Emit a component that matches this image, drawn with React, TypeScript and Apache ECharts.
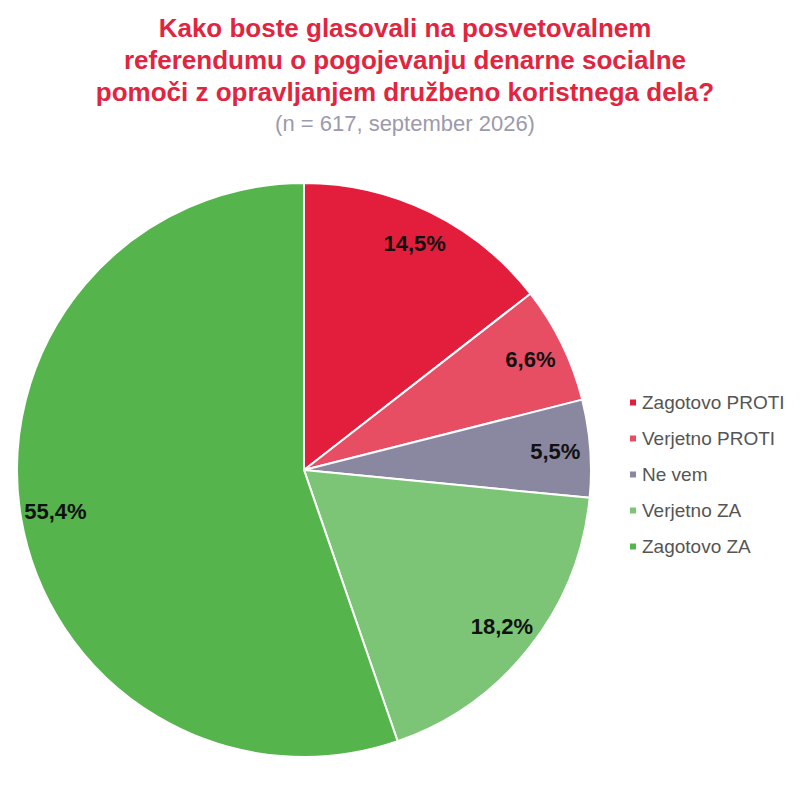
import * as echarts from 'echarts';
import { useEffect, useRef } from 'react';

const categories = ['Zagotovo PROTI', 'Verjetno PROTI', 'Ne vem', 'Verjetno ZA', 'Zagotovo ZA'];
const shares = [14.5, 6.6, 5.5, 18.2, 55.4];
const colors = ['#e31e3c', '#e84e63', '#8a87a0', '#7cc576', '#55b54c'];

const titleLines = [
  'Kako boste glasovali na posvetovalnem',
  'referendumu o pogojevanju denarne socialne',
  'pomoči z opravljanjem družbeno koristnega dela?',
];
const subtitle = '(n = 617, september 2026)';

const font = '"Liberation Sans", Arial, sans-serif';

export default function App() {
  const container = useRef<HTMLDivElement>(null);

  useEffect(() => {
    document.body.style.margin = '0';
    const element = container.current;
    if (!element) return undefined;
    const chart = echarts.init(element, undefined, { renderer: 'svg' });
    const data = categories.map((name, i) => ({
      name,
      value: shares[i],
      itemStyle: { color: colors[i] },
    }));

    chart.setOption({
      animation: false,
      backgroundColor: '#ffffff',
      title: {
        text: titleLines.join('\n'),
        subtext: subtitle,
        left: 400,
        top: 7,
        textAlign: 'center',
        itemGap: 4,
        textStyle: {
          color: '#e2253f',
          fontFamily: font,
          fontSize: 26,
          fontWeight: 'bold',
          lineHeight: 32,
        },
        subtextStyle: {
          color: '#9c9aab',
          fontFamily: font,
          fontSize: 22,
        },
      },
      legend: {
        orient: 'vertical',
        left: 623,
        top: 388,
        itemWidth: 8,
        itemHeight: 8,
        itemGap: 17,
        icon: 'rect',
        data: categories,
        textStyle: { color: '#555555', fontFamily: font, fontSize: 19 },
      },
      series: [
        {
          type: 'pie',
          center: [304, 470],
          radius: [0, 287],
          startAngle: 90,
          clockwise: true,
          itemStyle: { borderColor: '#ffffff', borderWidth: 2 },
          label: { show: false },
          labelLine: { show: false },
          emphasis: { disabled: true },
          data,
        },
        {
          // transparent ring that only carries the labels near the outer edge
          type: 'pie',
          silent: true,
          center: [304, 470],
          radius: [211, 287],
          startAngle: 90,
          clockwise: true,
          itemStyle: { color: 'transparent', borderWidth: 0 },
          label: {
            show: true,
            position: 'inside',
            formatter: (p: { value: number }) => `${p.value.toFixed(1).replace('.', ',')}%`,
            color: '#111111',
            fontFamily: font,
            fontSize: 22,
            fontWeight: 'bold',
          },
          labelLine: { show: false },
          emphasis: { disabled: true },
          tooltip: { show: false },
          legendHoverLink: false,
          data: categories.map((name, i) => ({ name: name + ' ', value: shares[i] })),
        },
      ],
    });

    return () => chart.dispose();
  }, []);

  return <div ref={container} style={{ width: 800, height: 800 }} />;
}
